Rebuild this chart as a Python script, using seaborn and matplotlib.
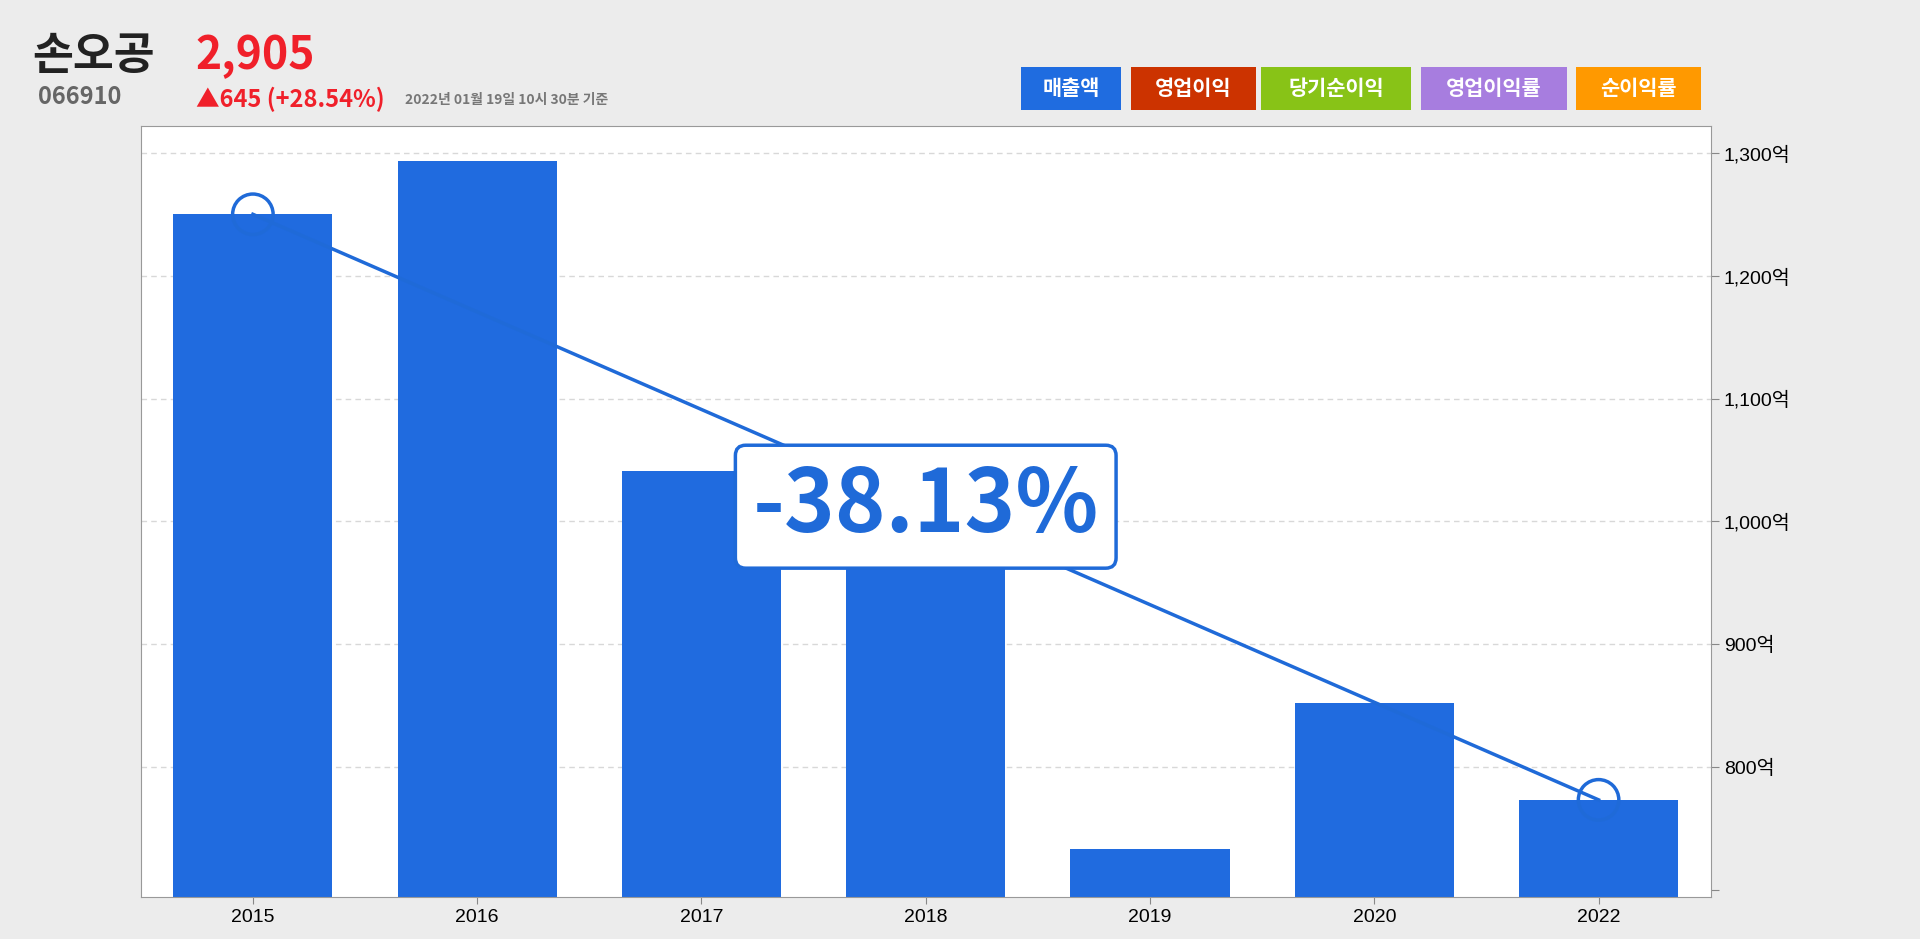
import matplotlib
matplotlib.use("Agg")
import matplotlib.pyplot as plt
import seaborn as sns
import pandas as pd
from matplotlib.ticker import FixedLocator

years = ["2015", "2016", "2017", "2018", "2019", "2020", "2022"]
sales = [1250, 1293, 1041, 1010, 733, 852, 773.4]
tick_vals = [700, 800, 900, 1000, 1100, 1200, 1300]
tick_labels = ["", "800억", "900억", "1,000억", "1,100억", "1,200억", "1,300억"]
legend_items = ["매출액", "영업이익", "당기순이익", "영업이익률", "순이익률"]
legend_colors = ["#1f6ce0", "#cc3300", "#88c317", "#a77ddf", "#ff9900"]

plt.rcParams["font.family"] = ["Noto Sans CJK KR"]
KR = "Noto Sans CJK KR"
df = pd.DataFrame({"year": years, "sales": sales})

fig = plt.figure(figsize=(19.2, 9.39), dpi=100, facecolor="#ececec")
ax = fig.add_axes([0.0733, 0.0443, 0.8177, 0.8217])
ax.set_facecolor("white")
sns.barplot(data=df, x="year", y="sales", color="#206bdf", saturation=1, width=0.71, ax=ax, zorder=2)
ax.set_ylim(694, 1322)
ax.set_xlim(-0.5, 6.5)
ax.yaxis.tick_right()
ax.yaxis.set_major_locator(FixedLocator(tick_vals))
ax.set_yticklabels(tick_labels, fontsize=14, fontfamily=["Liberation Sans", KR])
ax.tick_params(axis="x", labelsize=14, length=5, color="#888")
ax.tick_params(axis="y", length=6, color="#888")
for t in ax.get_xticklabels():
    t.set_fontfamily("Liberation Sans")
ax.set_xlabel(""); ax.set_ylabel("")
for v in tick_vals[1:]:
    ax.axhline(v, color="#d8d8d8", ls=(0, (4, 3)), lw=1, zorder=1)
for s in ax.spines.values():
    s.set_color("#999")

x0, x1 = 0, 6
ax.plot([x0, x1], [sales[0], sales[-1]], color="#1f6ad8", lw=2.5, zorder=3)
ax.scatter([x0, x1], [sales[0], sales[-1]], s=850, facecolor="none", edgecolor="#1f6ad8", lw=2.5, zorder=4)
pct = (sales[-1] - sales[0]) / sales[0] * 100
ax.text(3.0, 1012, f"{pct:.2f}%", fontsize=62, fontweight="bold", color="#1f6ad8",
        ha="center", va="center", zorder=5, fontfamily=KR,
        bbox=dict(boxstyle="round,pad=0.2,rounding_size=0.12", fc="white", ec="#1f6ad8", lw=2.5))

fig.text(0.017, 0.94, "손오공", fontsize=32, fontweight="bold", color="#222", va="center")
fig.text(0.102, 0.94, "2,905", fontsize=32, fontweight="bold", color="#f0202a", va="center")
fig.text(0.02, 0.897, "066910", fontsize=17, fontweight="bold", color="#666", va="center")
fig.text(0.102, 0.894, "▲645 (+28.54%)", fontsize=17, fontweight="bold", color="#f0202a", va="center")
fig.text(0.211, 0.894, "2022년 01월 19일 10시 30분 기준", fontsize=10, fontweight="bold", color="#777", va="center")

lx = [0.532, 0.589, 0.657, 0.740, 0.821]
lw_ = [0.052, 0.065, 0.078, 0.076, 0.065]
for x, w, lab, c in zip(lx, lw_, legend_items, legend_colors):
    fig.patches.append(plt.Rectangle((x, 0.883), w, 0.046, transform=fig.transFigure, fc=c, ec="none"))
    fig.text(x + w / 2, 0.906, lab, fontsize=15, fontweight="bold", color="white", ha="center", va="center")

fig.savefig("out.png", dpi=100, facecolor=fig.get_facecolor())
